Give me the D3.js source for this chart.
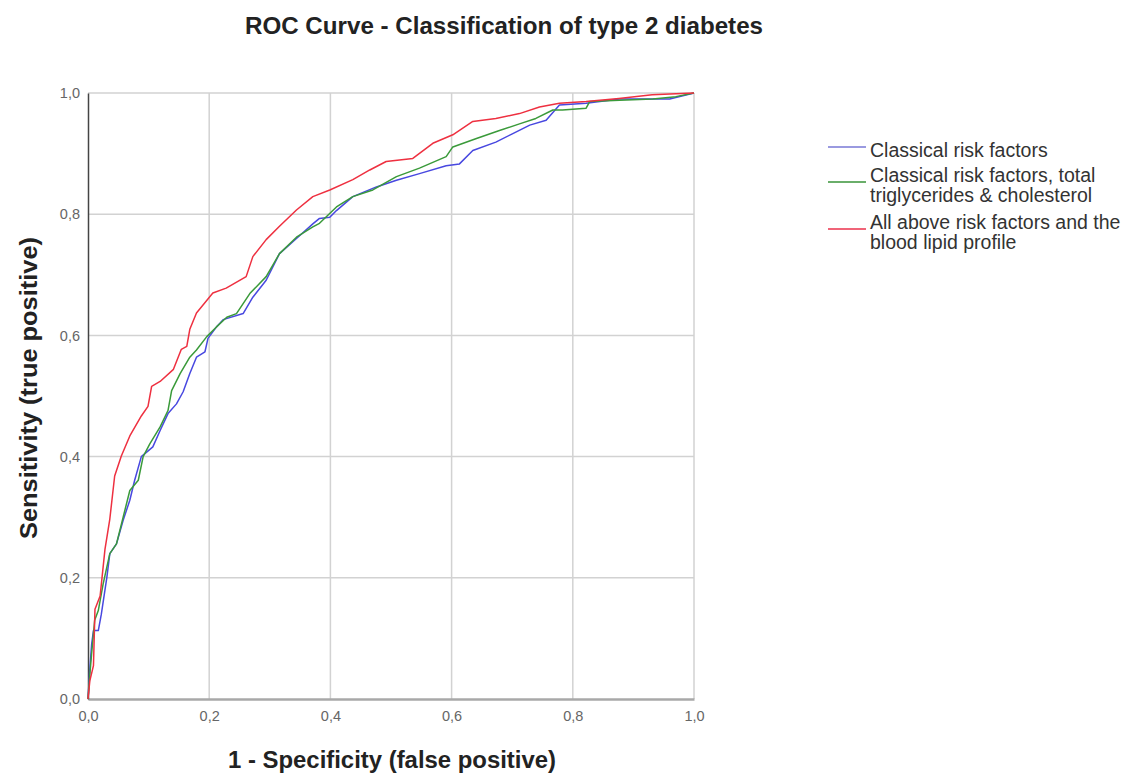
<!DOCTYPE html>
<html>
<head>
<meta charset="utf-8">
<script src="https://cdn.jsdelivr.net/npm/d3@7"></script>
<style>
  html, body { margin: 0; padding: 0; background: #ffffff; }
  svg { display: block; font-family: "Liberation Sans", Arial, sans-serif; }
</style>
</head>
<body>
<svg id="chart" width="1136" height="775"></svg>
<script>
// ---- data ----
const titleText = "ROC Curve - Classification of type 2 diabetes";
const xTitle = "1 - Specificity (false positive)";
const yTitle = "Sensitivity (true positive)";
const tickValues = [0, 0.2, 0.4, 0.6, 0.8, 1.0];
const tickLabels = ["0,0", "0,2", "0,4", "0,6", "0,8", "1,0"];
const seriesNames = [
  ["Classical risk factors"],
  ["Classical risk factors, total", "triglycerides & cholesterol"],
  ["All above risk factors and the", "blood lipid profile"]
];
const seriesColors = ["#4848e0", "#3a9a3a", "#ee3040"];
const legendColors = ["#9a9ae0", "#6aae6a", "#f06478"];

// [1 - specificity, sensitivity]
const classical = [[0,0],[0.003,0.05],[0.006,0.09],[0.009,0.113],[0.017,0.113],[0.022,0.14],[0.031,0.20],[0.036,0.24],[0.047,0.256],[0.058,0.295],[0.069,0.328],[0.077,0.361],[0.088,0.40],[0.107,0.416],[0.119,0.443],[0.132,0.471],[0.146,0.487],[0.157,0.507],[0.168,0.537],[0.179,0.564],[0.193,0.573],[0.198,0.595],[0.212,0.614],[0.223,0.626],[0.256,0.636],[0.272,0.663],[0.294,0.691],[0.316,0.735],[0.344,0.76],[0.371,0.784],[0.382,0.793],[0.399,0.795],[0.41,0.806],[0.437,0.829],[0.476,0.845],[0.509,0.856],[0.547,0.867],[0.591,0.880],[0.613,0.883],[0.635,0.905],[0.673,0.919],[0.701,0.933],[0.729,0.947],[0.756,0.955],[0.778,0.98],[0.822,0.983],[0.877,0.99],[0.96,0.99],[1,1]];
const withLipids = [[0,0],[0.003,0.04],[0.006,0.075],[0.011,0.13],[0.017,0.146],[0.025,0.19],[0.036,0.24],[0.047,0.256],[0.058,0.30],[0.069,0.344],[0.083,0.361],[0.091,0.40],[0.102,0.421],[0.119,0.449],[0.132,0.476],[0.138,0.509],[0.152,0.537],[0.168,0.564],[0.179,0.576],[0.196,0.598],[0.212,0.614],[0.229,0.63],[0.245,0.636],[0.267,0.669],[0.294,0.697],[0.316,0.735],[0.344,0.762],[0.371,0.779],[0.382,0.785],[0.41,0.812],[0.437,0.829],[0.47,0.84],[0.509,0.862],[0.547,0.876],[0.591,0.895],[0.602,0.911],[0.641,0.925],[0.679,0.938],[0.712,0.949],[0.739,0.958],[0.767,0.972],[0.783,0.972],[0.822,0.975],[0.828,0.986],[0.877,0.988],[0.932,0.99],[0.97,0.994],[1,1]];
const allFactors = [[0,0],[0.003,0.03],[0.009,0.055],[0.0115,0.148],[0.020,0.170],[0.028,0.247],[0.036,0.297],[0.044,0.368],[0.055,0.401],[0.069,0.434],[0.088,0.467],[0.099,0.483],[0.105,0.516],[0.119,0.524],[0.141,0.544],[0.154,0.577],[0.163,0.582],[0.168,0.610],[0.179,0.637],[0.206,0.670],[0.228,0.678],[0.261,0.697],[0.272,0.730],[0.294,0.758],[0.316,0.780],[0.344,0.807],[0.371,0.829],[0.399,0.840],[0.437,0.857],[0.465,0.873],[0.492,0.887],[0.536,0.892],[0.569,0.917],[0.602,0.931],[0.635,0.953],[0.673,0.958],[0.712,0.966],[0.745,0.977],[0.778,0.983],[0.822,0.986],[0.876,0.991],[0.931,0.997],[1,1]];
const seriesData = [classical, withLipids, allFactors];

// ---- layout ----
const svg = d3.select("#chart");
const plot = { left: 88, top: 93, width: 606, height: 606 };
const x = d3.scaleLinear().domain([0, 1]).range([plot.left, plot.left + plot.width]);
const y = d3.scaleLinear().domain([0, 1]).range([plot.top + plot.height, plot.top]);
const fmt = d => tickLabels[tickValues.findIndex(v => Math.abs(v - d) < 1e-9)];

// gridlines
const g = svg.append("g");
g.append("g").selectAll("line").data(tickValues.slice(1)).join("line")
  .attr("x1", d => x(d)).attr("x2", d => x(d))
  .attr("y1", y(0)).attr("y2", y(1))
  .attr("stroke", "#d2d2d2").attr("stroke-width", 1.5);
g.append("g").selectAll("line").data(tickValues.slice(1)).join("line")
  .attr("x1", x(0)).attr("x2", x(1))
  .attr("y1", d => y(d)).attr("y2", d => y(d))
  .attr("stroke", "#d2d2d2").attr("stroke-width", 1.5);

// axes
const xAxis = svg.append("g").attr("transform", `translate(0,${y(0)})`)
  .call(d3.axisBottom(x).tickValues(tickValues).tickFormat(fmt).tickSize(0).tickPadding(12));
const yAxis = svg.append("g").attr("transform", `translate(${x(0)},0)`)
  .call(d3.axisLeft(y).tickValues(tickValues).tickFormat(fmt).tickSize(0).tickPadding(8));
xAxis.select(".domain").attr("stroke", "#a8a8a8").attr("stroke-width", 2.5);
yAxis.select(".domain").attr("stroke", "#444").attr("stroke-width", 1.5);
[xAxis, yAxis].forEach(a => a.selectAll("text")
  .attr("fill", "#666").attr("font-size", 14.5).attr("font-family", "Liberation Sans, Arial, sans-serif"));

// curves
const line = d3.line().x(d => x(d[0])).y(d => y(d[1])).curve(d3.curveLinear);
svg.append("g").selectAll("path").data(seriesData).join("path")
  .attr("d", line)
  .attr("fill", "none")
  .attr("stroke", (d, i) => seriesColors[i])
  .attr("stroke-width", 1.5)
  .attr("stroke-linejoin", "round");

// titles
svg.append("text").attr("x", 504).attr("y", 34).attr("text-anchor", "middle")
  .attr("font-size", 24).attr("font-weight", "bold").attr("fill", "#222")
  .attr("textLength", 518).attr("lengthAdjust", "spacingAndGlyphs").text(titleText);
svg.append("text").attr("x", 392).attr("y", 768).attr("text-anchor", "middle")
  .attr("font-size", 23).attr("font-weight", "bold").attr("fill", "#222")
  .attr("textLength", 328).attr("lengthAdjust", "spacingAndGlyphs").text(xTitle);
svg.append("text").attr("transform", "translate(37,388) rotate(-90)").attr("text-anchor", "middle")
  .attr("font-size", 23).attr("font-weight", "bold").attr("fill", "#222")
  .attr("textLength", 302).attr("lengthAdjust", "spacingAndGlyphs").text(yTitle);

// legend
const legendLineY = [147, 182, 229];
const legendTextY = [[157], [182, 202], [229, 249]];
const leg = svg.append("g");
seriesNames.forEach((lines, i) => {
  leg.append("line").attr("x1", 828).attr("x2", 866)
    .attr("y1", legendLineY[i]).attr("y2", legendLineY[i])
    .attr("stroke", legendColors[i]).attr("stroke-width", 2);
  lines.forEach((t, j) => {
    leg.append("text").attr("x", 870).attr("y", legendTextY[i][j])
      .attr("font-size", 19.5).attr("fill", "#333").text(t);
  });
});
</script>
</body>
</html>
